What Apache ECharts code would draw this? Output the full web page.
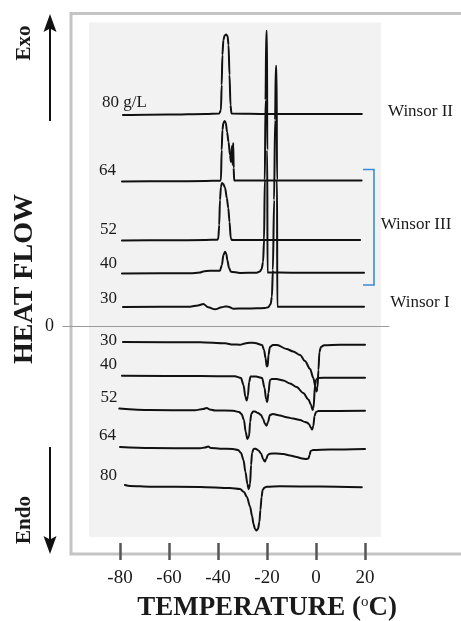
<!DOCTYPE html>
<html><head><meta charset="utf-8">
<script src="https://cdn.jsdelivr.net/npm/echarts@6/dist/echarts.min.js"></script>
<style>html,body{margin:0;padding:0;background:#fff}#c{width:461px;height:621px}</style>
</head><body><div id="c"></div>
<script>
// Temperature ticks (°C)
const xTicks = [-80, -60, -40, -20, 0, 20];
// Curve labels
const exoLabels = ['80 g/L', '64', '52', '40', '30'];
const endoLabels = ['30', '40', '52', '64', '80'];
const phaseLabels = ['Winsor II', 'Winsor III', 'Winsor I'];

// Exothermic (cooling) curves: [temperature °C, heat flow (offset, arb. units)]
const exo80 = [[-78.8,211.5],[-60,212],[-45,212.6],[-39.5,213],[-38.8,216.5],[-38.5,241.5],[-38.2,271.5],[-37.8,286.5],[-37.3,291],[-36.7,292],[-36.1,290.5],[-35.7,281.5],[-35.3,251.5],[-34.9,221.5],[-34.5,213],[-20,212.5],[18.7,212.5]];
const exo64 = [[-79.2,145],[-60,145.2],[-45,145.5],[-39.2,145.8],[-38.8,146.5],[-38.5,176.5],[-38.2,196.5],[-37.8,203.5],[-37.3,205.5],[-36.8,203.5],[-36.3,194.5],[-35.7,184.5],[-35.1,171.5],[-34.7,164.5],[-34.3,180.5],[-34.0,161.5],[-33.8,183.5],[-33.6,158.5],[-33.4,146],[-20,146],[18.6,146]];
const exo52 = [[-79.2,86],[-60,86.2],[-45,86.5],[-40.5,86.8],[-39.9,87.5],[-39.5,101.5],[-39.2,126.5],[-38.8,139.5],[-38.4,143.5],[-37.8,142.5],[-37.1,138.5],[-36.4,128.5],[-35.8,118.5],[-35.3,104.5],[-34.8,88.5],[-34.3,86.5],[-20,86.5],[18,86.5]];
const exo40 = [[-79.2,53],[-51.4,53.2],[-47.3,54],[-46,55],[-43.3,55.8],[-39.2,55.8],[-38.4,61.5],[-37.8,71.5],[-37.1,74.8],[-36.6,72.5],[-36.2,66.5],[-35.5,58.5],[-34.7,54.8],[-31,53.5],[-24.2,53.8],[-22.9,55],[-22.2,57.5],[-21.6,64.5],[-21.2,86.5],[-20.9,146.5],[-20.6,226.5],[-20.3,295.5],[-20.0,295.5],[-19.9,176.5],[-19.8,54],[-10,53.8],[19.6,53.8]];
const exo30 = [[-78.8,19.5],[-51.4,19.8],[-48.2,21],[-46,22.5],[-44,19.2],[-41.2,17.2],[-38.5,19.2],[-37.1,20],[-35.8,19.8],[-33.8,17.8],[-29,18],[-24.2,18.2],[-20.8,18.5],[-19.5,19.2],[-18.5,22.5],[-18.0,29.8],[-17.6,56.5],[-17.1,126.5],[-16.7,206.5],[-16.4,260.5],[-16.1,260.5],[-15.9,146.5],[-15.8,19.8],[19.6,19.8]];

// Endothermic (heating) curves
const endo30 = [[-78.8,-15.5],[-47.3,-15.8],[-37.1,-16.8],[-33.9,-18],[-31,-18.2],[-29,-17],[-26.9,-16.2],[-24.9,-16.5],[-22,-18.5],[-21.2,-23.5],[-20.6,-31.5],[-20.1,-40],[-19.7,-39.5],[-19.4,-28.5],[-18.8,-20.5],[-17.6,-18.5],[-15.9,-18.5],[-12,-22.5],[-9.3,-25],[-6.5,-28.5],[-4.5,-34.5],[-2.4,-42.5],[-1.1,-51.5],[-0.2,-60.5],[0.2,-65],[0.6,-61.5],[1,-43.5],[1.4,-25.5],[2,-20.5],[3.3,-18.8],[9.8,-18.2],[20,-18.2]];
const endo40 = [[-79.2,-49.2],[-47.3,-49.5],[-33.1,-49.8],[-30.6,-51.5],[-29.6,-58.5],[-28.8,-70.5],[-28.3,-74],[-27.8,-69.5],[-27.3,-55.5],[-26.7,-50],[-24.5,-50],[-22,-51.5],[-21,-61.5],[-20.4,-72.5],[-19.9,-75.5],[-19.4,-66.5],[-18.8,-53.5],[-18,-52.5],[-16.1,-52.5],[-13.3,-54],[-10.6,-57],[-7.9,-60.5],[-5.2,-66.5],[-3.1,-73],[-2,-78.5],[-1.4,-83.5],[-1,-81.5],[-0.4,-58.5],[0,-53.5],[0.8,-51.5],[5.7,-51.2],[20,-51.2]];
const endo52 = [[-80.3,-82],[-67.8,-83.5],[-49.4,-83.8],[-46.1,-82.5],[-44.6,-81.5],[-43.3,-83],[-41.2,-84],[-33.8,-84.2],[-31.4,-85.5],[-30.4,-87.5],[-29.4,-93.5],[-28.7,-105.5],[-28,-112.5],[-27.3,-109.5],[-26.9,-95.5],[-26.4,-87.5],[-25.7,-85],[-24.9,-85],[-23.7,-86.5],[-22.4,-88.5],[-21.6,-92.5],[-20.8,-97.5],[-20.2,-99.2],[-19.6,-95.5],[-18.8,-88.5],[-17.6,-87.5],[-14.7,-89],[-12,-90.8],[-9.4,-92],[-6.5,-93.5],[-4.5,-95.5],[-3.7,-96],[-2.9,-97.5],[-2,-101.5],[-1.6,-103],[-1.1,-99.5],[-0.6,-89.5],[0,-85.5],[1,-84.5],[20,-84.2]];
const endo64 = [[-80,-120.5],[-67.8,-121.5],[-47.3,-121.8],[-45.3,-121],[-44,-120],[-42.9,-121.5],[-39.2,-122.2],[-33.9,-122.5],[-31.8,-123.5],[-30.6,-126.5],[-29.6,-133.5],[-28.8,-145.5],[-28,-157.5],[-27.5,-162.8],[-26.9,-157.5],[-26.5,-138.5],[-26.1,-126.5],[-25.5,-122.5],[-24.7,-122.2],[-23.5,-124],[-22.4,-127],[-21.6,-132.5],[-20.9,-135],[-20.3,-132.5],[-19.7,-128.5],[-18.8,-127.2],[-16.3,-127],[-13.3,-127.5],[-10.6,-129],[-7.9,-130.5],[-5.7,-132],[-4.1,-132.5],[-3.1,-132],[-2.6,-128.5],[-2.2,-124.5],[-1.2,-123.5],[5.7,-123],[20,-122.5]];
const endo80 = [[-78,-158.5],[-75.9,-159.5],[-67.8,-160.2],[-47.3,-160.5],[-35.1,-161.5],[-31,-162.5],[-29.4,-165.5],[-28.2,-170.5],[-26.9,-180.2],[-26.1,-189.5],[-25.5,-197.5],[-24.9,-202.5],[-24.3,-204],[-23.7,-202.5],[-23.1,-195.5],[-22.7,-183.5],[-22.2,-170.5],[-21.8,-163.5],[-21,-161],[-20.1,-160.2],[-14.7,-159.8],[1.6,-160],[18.7,-160.8]];

const curves = [exo80, exo64, exo52, exo40, exo30, endo30, endo40, endo52, endo64, endo80];

const FONT = 'Liberation Serif';
const TXT = '#1a1a1a';
const Y_MIN = -227.5, Y_MAX = 313;

const chart = echarts.init(document.getElementById('c'), null, {renderer: 'canvas'});

const series = curves.map((d) => ({
  type: 'line',
  xAxisIndex: 0, yAxisIndex: 0,
  data: d,
  showSymbol: false,
  smooth: 0.3,
  smoothMonotone: 'x',
  clip: false,
  animation: false,
  z: 3,
  lineStyle: {color: '#111', width: 2, join: 'round', cap: 'round'}
}));

function txt(x, y, text, size, opts) {
  return Object.assign({
    type: 'text', x: x, y: y, silent: true,
    style: {text: text, fill: TXT, font: (opts && opts.weight ? opts.weight + ' ' : '') + size + 'px "' + FONT + '"',
      align: (opts && opts.align) || 'left', verticalAlign: 'middle'}
  }, opts && opts.rot ? {rotation: opts.rot} : {});
}

const exoPos = [[102, 102.5], [99, 171], [100, 230], [100, 264], [100, 299]];
const endoPos = [[100, 341], [100, 365], [100.5, 397.5], [99, 436], [100, 475.5]];
const phasePos = [[420.5, 112], [416, 225], [420, 303]];

const graphic = [];
exoLabels.forEach((t, i) => graphic.push(txt(exoPos[i][0], exoPos[i][1], t, 17)));
endoLabels.forEach((t, i) => graphic.push(txt(endoPos[i][0], endoPos[i][1], t, 17)));
phaseLabels.forEach((t, i) => graphic.push(txt(phasePos[i][0], phasePos[i][1], t, 17, {align: 'center'})));
graphic.push(txt(25, 43, 'Exo', 21, {align: 'center', weight: 'bold', rot: Math.PI / 2}));
graphic.push(txt(25, 520, 'Endo', 21, {align: 'center', weight: 'bold', rot: Math.PI / 2}));
graphic.push(txt(25, 279, 'HEAT FLOW', 28, {align: 'center', weight: 'bold', rot: Math.PI / 2}));
// arrows
graphic.push({type: 'line', silent: true, shape: {x1: 50, y1: 121, x2: 50, y2: 28}, style: {stroke: '#111', lineWidth: 2}});
graphic.push({type: 'polygon', silent: true, shape: {points: [[50, 14], [43.5, 32], [50, 28.5], [56.5, 32]]}, style: {fill: '#111'}});
graphic.push({type: 'line', silent: true, shape: {x1: 50, y1: 447, x2: 50, y2: 540}, style: {stroke: '#111', lineWidth: 2}});
graphic.push({type: 'polygon', silent: true, shape: {points: [[50, 554], [43.5, 536], [50, 539.5], [56.5, 536]]}, style: {fill: '#111'}});
// Winsor III bracket
graphic.push({type: 'polyline', silent: true, shape: {points: [[363, 169.5], [374, 169.5], [374, 285], [363, 285]]}, style: {stroke: '#3d8bd6', lineWidth: 1.6, fill: null}});

const option = {
  animation: false,
  backgroundColor: '#ffffff',
  grid: [
    // outer frame
    {left: 71, top: 13.5, right: -2, bottom: 67, show: true, borderColor: '#c4c4c4', borderWidth: 3, backgroundColor: 'transparent', z: 0, outerBoundsMode: 'none', containLabel: false},
    // grey plot background
    {left: 89, top: 22.5, width: 292, height: 514.5, show: true, borderWidth: 0, backgroundColor: '#f2f2f2', z: 0, outerBoundsMode: 'none'},
    // zero reference line
    {left: 63, top: 13.5, right: 72, bottom: 67, show: false, outerBoundsMode: 'none'}
  ],
  xAxis: [
    {type: 'value', gridIndex: 0, min: -100, max: 60, offset: -11,
      axisLine: {show: false, onZero: false}, splitLine: {show: false},
      axisTick: {show: true, length: 17, inside: false, customValues: xTicks, lineStyle: {color: '#555', width: 2.5}},
      axisLabel: {show: true, customValues: xTicks, margin: 26, fontSize: 19, fontFamily: FONT, color: TXT},
      name: 'TEMPERATURE ({s|o}C)', nameLocation: 'middle', nameGap: 52,
      nameTextStyle: {fontSize: 27, fontWeight: 'bold', fontFamily: FONT, color: TXT,
        rich: {s: {fontSize: 15, fontWeight: 'normal', fontFamily: FONT, color: TXT, verticalAlign: 'top', padding: [0, 0, 8, 0]}}}
    },
    {type: 'value', gridIndex: 1, min: 0, max: 1, show: false},
    {type: 'value', gridIndex: 2, min: 0, max: 1, show: true,
      axisLine: {show: true, onZero: true, lineStyle: {color: '#9a9a9a', width: 1}},
      axisTick: {show: false}, axisLabel: {show: false}, splitLine: {show: false}}
  ],
  yAxis: [
    {type: 'value', gridIndex: 0, min: Y_MIN, max: Y_MAX,
      axisLine: {show: false}, axisTick: {show: false}, splitLine: {show: false},
      axisLabel: {show: true, customValues: [0], margin: 17, fontSize: 18, fontFamily: FONT, color: TXT}
    },
    {type: 'value', gridIndex: 1, min: 0, max: 1, show: false},
    {type: 'value', gridIndex: 2, min: Y_MIN, max: Y_MAX, show: false}
  ],
  graphic: graphic,
  series: series
};
chart.setOption(option);
</script>
</body></html>
